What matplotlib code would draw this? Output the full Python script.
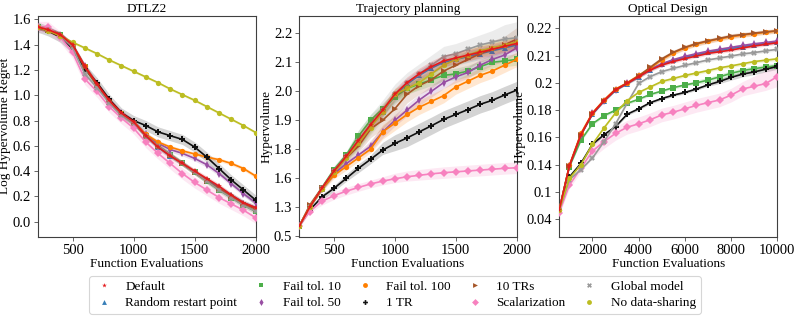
import numpy as np
import matplotlib
matplotlib.use("Agg")
import matplotlib.pyplot as plt
from matplotlib.lines import Line2D
from matplotlib.ticker import NullLocator

plt.rcParams['font.family'] = 'serif'
plt.rcParams['font.serif'] = ['Liberation Serif', 'DejaVu Serif']
plt.rcParams['mathtext.fontset'] = 'stix'

# ---------------- data ----------------
methods = ['Default', 'Random restart point', 'Fail tol. 10', 'Fail tol. 50', 'Fail tol. 100',
           '1 TR', '10 TRs', 'Scalarization', 'Global model', 'No data-sharing']
colors = ['#e41a1c', '#377eb8', '#4daf4a', '#984ea3', '#ff7f00',
          '#111111', '#a65628', '#f781bf', '#999999', '#bcbd22']
markers = ['*', '^', 's', 'd', 'o', 'P', '>', 'D', 'X', 'o']

# DTLZ2 (log hypervolume regret)
x_dtlz = [215, 300, 400, 500, 600, 700, 800, 900, 1000, 1100, 1200, 1300, 1400, 1500, 1600, 1700, 1800, 1900, 2000]
dtlz_default = [1.54, 1.52, 1.48, 1.40, 1.23, 1.09, 0.96, 0.86, 0.79, 0.68, 0.59, 0.52, 0.46, 0.40, 0.34, 0.28, 0.21, 0.15, 0.11]
dtlz_restart = [1.54, 1.52, 1.48, 1.40, 1.23, 1.09, 0.96, 0.86, 0.79, 0.68, 0.59, 0.52, 0.46, 0.39, 0.33, 0.27, 0.21, 0.15, 0.11]
dtlz_fail10 = [1.54, 1.52, 1.48, 1.39, 1.22, 1.08, 0.95, 0.85, 0.78, 0.68, 0.60, 0.53, 0.46, 0.39, 0.32, 0.25, 0.19, 0.13, 0.08]
dtlz_fail50 = [1.54, 1.52, 1.48, 1.40, 1.23, 1.09, 0.96, 0.86, 0.79, 0.69, 0.62, 0.57, 0.54, 0.50, 0.45, 0.38, 0.30, 0.22, 0.15]
dtlz_fail100 = [1.54, 1.52, 1.48, 1.40, 1.23, 1.09, 0.96, 0.86, 0.79, 0.69, 0.63, 0.59, 0.56, 0.535, 0.51, 0.49, 0.46, 0.42, 0.36]
dtlz_1tr = [1.54, 1.51, 1.46, 1.37, 1.21, 1.10, 0.97, 0.86, 0.80, 0.76, 0.71, 0.68, 0.65, 0.59, 0.51, 0.42, 0.33, 0.25, 0.17]
dtlz_10tr = [1.54, 1.52, 1.48, 1.39, 1.22, 1.08, 0.95, 0.85, 0.78, 0.68, 0.60, 0.53, 0.46, 0.39, 0.32, 0.26, 0.20, 0.14, 0.10]
dtlz_scal = [1.54, 1.54, 1.46, 1.34, 1.13, 1.03, 0.91, 0.82, 0.74, 0.63, 0.54, 0.46, 0.38, 0.31, 0.25, 0.19, 0.14, 0.09, 0.03]
dtlz_global = [1.54, 1.52, 1.47, 1.38, 1.17, 1.06, 0.94, 0.84, 0.78, 0.68, 0.60, 0.53, 0.46, 0.39, 0.32, 0.25, 0.19, 0.13, 0.08]
dtlz_noshare = [1.54, 1.51, 1.47, 1.42, 1.375, 1.33, 1.28, 1.235, 1.19, 1.145, 1.10, 1.05, 1.005, 0.96, 0.91, 0.86, 0.81, 0.76, 0.705]
dtlz_band = [0.02, 0.02, 0.02, 0.02, 0.015, 0.04, 0.02, 0.045, 0.02, 0.01]

# Trajectory planning (hypervolume)
x_traj = [215, 300, 400, 500, 600, 700, 800, 900, 1000, 1100, 1200, 1300, 1400, 1500, 1600, 1700, 1800, 1900, 2000]
traj_default = [0.78, 1.30, 1.495, 1.65, 1.75, 1.83, 1.885, 1.935, 1.99, 2.03, 2.06, 2.085, 2.105, 2.115, 2.125, 2.135, 2.145, 2.155, 2.165]
traj_restart = [0.78, 1.30, 1.49, 1.645, 1.745, 1.825, 1.88, 1.93, 1.985, 2.025, 2.055, 2.08, 2.10, 2.11, 2.12, 2.13, 2.14, 2.15, 2.16]
traj_fail10 = [0.78, 1.30, 1.50, 1.66, 1.76, 1.845, 1.90, 1.94, 1.98, 2.01, 2.025, 2.04, 2.055, 2.06, 2.07, 2.085, 2.10, 2.105, 2.11]
traj_fail50 = [0.78, 1.30, 1.49, 1.63, 1.70, 1.76, 1.81, 1.86, 1.90, 1.935, 1.97, 2.00, 2.03, 2.05, 2.065, 2.09, 2.11, 2.125, 2.15]
traj_fail100 = [0.78, 1.30, 1.49, 1.62, 1.68, 1.74, 1.80, 1.86, 1.89, 1.92, 1.945, 1.965, 1.985, 2.015, 2.035, 2.055, 2.07, 2.09, 2.11]
traj_1tr = [0.78, 1.22, 1.405, 1.495, 1.597, 1.668, 1.73, 1.794, 1.82, 1.839, 1.86, 1.881, 1.903, 1.92, 1.937, 1.955, 1.969, 1.987, 2.004]
traj_10tr = [0.78, 1.32, 1.50, 1.65, 1.74, 1.81, 1.87, 1.90, 1.94, 1.99, 2.02, 2.04, 2.07, 2.09, 2.11, 2.13, 2.145, 2.16, 2.18]
traj_scal = [0.78, 1.18, 1.36, 1.42, 1.465, 1.504, 1.54, 1.57, 1.594, 1.61, 1.62, 1.63, 1.638, 1.644, 1.65, 1.656, 1.662, 1.668, 1.672]
traj_global = [0.78, 1.30, 1.495, 1.65, 1.75, 1.83, 1.885, 1.935, 1.99, 2.03, 2.06, 2.09, 2.12, 2.13, 2.145, 2.16, 2.17, 2.18, 2.185]
traj_noshare = [0.78, 1.30, 1.49, 1.64, 1.74, 1.82, 1.875, 1.93, 1.99, 2.01, 2.03, 2.06, 2.09, 2.11, 2.125, 2.14, 2.15, 2.16, 2.17]
traj_band = [0.02, 0.02, 0.02, 0.02, 0.025, 0.03, 0.03, 0.04, 0.035, 0.02]
traj_ticks = [0.5, 1.3, 1.6, 1.8, 1.9, 2.0, 2.1, 2.2]
traj_ticklabels = ['0.5', '1.3', '1.6', '1.8', '1.9', '2.0', '2.1', '2.2']

# Optical design (hypervolume)
x_opt = [560, 1000, 1500, 2000, 2500, 3000, 3500, 4000, 4500, 5000, 5500, 6000, 6500, 7000, 7500, 8000, 8500, 9000, 9500, 10000]
opt_default = [0.06, 0.138, 0.162, 0.1776, 0.187, 0.195, 0.1996, 0.2023, 0.2047, 0.2065, 0.2078, 0.2089, 0.2098, 0.2108, 0.2114, 0.212, 0.2128, 0.2135, 0.2141, 0.2147]
opt_restart = [0.06, 0.138, 0.162, 0.177, 0.1865, 0.1945, 0.1993, 0.2022, 0.2048, 0.2068, 0.2082, 0.2094, 0.2103, 0.2112, 0.2119, 0.2126, 0.2133, 0.2139, 0.2145, 0.2150]
opt_fail10 = [0.06, 0.137, 0.158, 0.170, 0.176, 0.180, 0.185, 0.188, 0.1915, 0.194, 0.1965, 0.1985, 0.200, 0.201, 0.2022, 0.2035, 0.2045, 0.2052, 0.2058, 0.2063]
opt_fail50 = [0.06, 0.138, 0.162, 0.1776, 0.187, 0.195, 0.1998, 0.2025, 0.205, 0.207, 0.2085, 0.2097, 0.2107, 0.2116, 0.2123, 0.213, 0.2137, 0.2143, 0.2148, 0.2153]
opt_fail100 = [0.06, 0.139, 0.163, 0.178, 0.1875, 0.1955, 0.200, 0.2027, 0.2053, 0.2085, 0.211, 0.2128, 0.2142, 0.2152, 0.2161, 0.2169, 0.2175, 0.2180, 0.2185, 0.2190]
opt_1tr = [0.06, 0.122, 0.141, 0.155, 0.162, 0.168, 0.177, 0.181, 0.1855, 0.1885, 0.191, 0.193, 0.1955, 0.1985, 0.2005, 0.202, 0.2032, 0.204, 0.205, 0.206]
opt_10tr = [0.06, 0.138, 0.162, 0.1775, 0.187, 0.195, 0.1998, 0.2025, 0.2057, 0.2088, 0.2112, 0.213, 0.2144, 0.2154, 0.2163, 0.2172, 0.2177, 0.2182, 0.2187, 0.2191]
opt_scal = [0.055, 0.11, 0.135, 0.150, 0.157, 0.163, 0.1675, 0.170, 0.173, 0.1765, 0.1785, 0.181, 0.1835, 0.1855, 0.1875, 0.191, 0.1955, 0.1975, 0.1995, 0.2023]
opt_global = [0.06, 0.118, 0.133, 0.145, 0.157, 0.170, 0.185, 0.1996, 0.2023, 0.2041, 0.2053, 0.2064, 0.2074, 0.2084, 0.2091, 0.2098, 0.2106, 0.2111, 0.2117, 0.2123]
opt_noshare = [0.06, 0.12, 0.140, 0.155, 0.167, 0.178, 0.187, 0.193, 0.197, 0.2005, 0.2016, 0.2027, 0.2036, 0.2045, 0.2055, 0.2062, 0.2070, 0.2078, 0.2083, 0.2088]
opt_band = [0.0006, 0.0006, 0.001, 0.0006, 0.0008, 0.001, 0.0008, 0.005, 0.0006, 0.0006]
opt_ticks = [0.04, 0.1, 0.14, 0.16, 0.18, 0.2, 0.21, 0.22]
opt_ticklabels = ['0.04', '0.1', '0.14', '0.16', '0.18', '0.2', '0.21', '0.22']

dtlz_series = [dtlz_default, dtlz_restart, dtlz_fail10, dtlz_fail50, dtlz_fail100,
               dtlz_1tr, dtlz_10tr, dtlz_scal, dtlz_global, dtlz_noshare]
traj_series = [traj_default, traj_restart, traj_fail10, traj_fail50, traj_fail100,
               traj_1tr, traj_10tr, traj_scal, traj_global, traj_noshare]
opt_series = [opt_default, opt_restart, opt_fail10, opt_fail50, opt_fail100,
              opt_1tr, opt_10tr, opt_scal, opt_global, opt_noshare]


# ---------------- helpers ----------------
def tick_scale(ticks, lo, hi):
    # axis where the listed ticks sit at equal spacing
    vals = np.array([lo] + list(ticks) + [hi], dtype=float)
    pos = np.arange(-1, len(ticks) + 1, dtype=float)
    fwd = lambda y: np.interp(y, vals, pos, left=-1e3, right=1e3)
    inv = lambda u: np.interp(u, pos, vals)
    return fwd, inv


def draw_panel(ax, x, series, bands):
    order = [1, 2, 3, 4, 5, 6, 7, 8, 9, 0]
    for i in order:
        y = np.array(series[i])
        zo = 3 + (5 if i == 0 else 0)
        ax.fill_between(x, y - bands[i], y + bands[i], color=colors[i], alpha=0.18,
                        linewidth=0, zorder=zo - 1)
        ax.plot(x, y, color=colors[i], marker=markers[i], markersize=3.8,
                markeredgewidth=0, linewidth=1.2, zorder=zo)


def style(ax):
    for s in ax.spines.values():
        s.set_color('0.25')
        s.set_linewidth(0.8)
    ax.tick_params(direction='out', length=3, width=0.6, color='0.3', labelsize=10.5, pad=2)
    ax.set_xlabel('Function Evaluations', fontsize=9.5, labelpad=1)


W, H = 797, 316
fig = plt.figure(figsize=(W / 100, H / 100), dpi=100)

bottom = 1 - 236.7 / H
height = (236.7 - 15.7) / H
ax1 = fig.add_axes([37.7 / W, bottom, 218 / W, height])
ax2 = fig.add_axes([299.3 / W, bottom, 217.4 / W, height])
ax3 = fig.add_axes([559.3 / W, bottom, 218 / W, height])

# DTLZ2
draw_panel(ax1, x_dtlz, dtlz_series, dtlz_band)
ax1.set_xlim(215, 2000)
ax1.set_ylim(-0.12, 1.63)
ax1.set_xticks([500, 1000, 1500, 2000])
ax1.set_yticks(np.arange(0, 1.61, 0.2))
ax1.set_title('DTLZ2', fontsize=9.5, pad=3)
ax1.set_ylabel('Log Hypervolume Regret', fontsize=9.5, labelpad=1)
style(ax1)

# Trajectory planning
fwd2, inv2 = tick_scale(traj_ticks, -0.3, 2.25)
ax2.set_yscale('function', functions=(fwd2, inv2))
draw_panel(ax2, x_traj, traj_series, traj_band)
ax2.set_xlim(215, 2000)
ax2.set_ylim(inv2(-0.02), inv2(7.61))
ax2.set_xticks([500, 1000, 1500, 2000])
ax2.set_yticks(traj_ticks)
ax2.set_yticklabels(traj_ticklabels)
ax2.yaxis.set_minor_locator(NullLocator())
ax2.set_title('Trajectory planning', fontsize=9.5, pad=3)
ax2.set_ylabel('Hypervolume', fontsize=9.5, labelpad=1)
style(ax2)

# Optical design
fwd3, inv3 = tick_scale(opt_ticks, -0.08, 0.225)
ax3.set_yscale('function', functions=(fwd3, inv3))
draw_panel(ax3, x_opt, opt_series, opt_band)
ax3.set_xlim(565, 10000)
ax3.set_ylim(inv3(-0.635), inv3(7.46))
ax3.set_xticks([2000, 4000, 6000, 8000, 10000])
ax3.set_yticks(opt_ticks)
ax3.set_yticklabels(opt_ticklabels)
ax3.yaxis.set_minor_locator(NullLocator())
ax3.set_title('Optical Design', fontsize=9.5, pad=3)
ax3.set_ylabel('Hypervolume', fontsize=9.5, labelpad=1)
style(ax3)

handles = [Line2D([], [], linestyle='', marker=markers[i], color=colors[i],
                  markersize=3.5, markeredgewidth=0) for i in range(len(methods))]
leg = fig.legend(handles, methods, ncol=5, loc='center', bbox_to_anchor=(395 / W, 1 - 295 / H),
                 fontsize=9.5, frameon=True, handlelength=1.5, handletextpad=0.9,
                 columnspacing=1.05, borderpad=0.35, labelspacing=0.3)
leg.get_frame().set_edgecolor('0.8')
leg.get_frame().set_linewidth(0.8)

fig.savefig('out.png', dpi=100)
